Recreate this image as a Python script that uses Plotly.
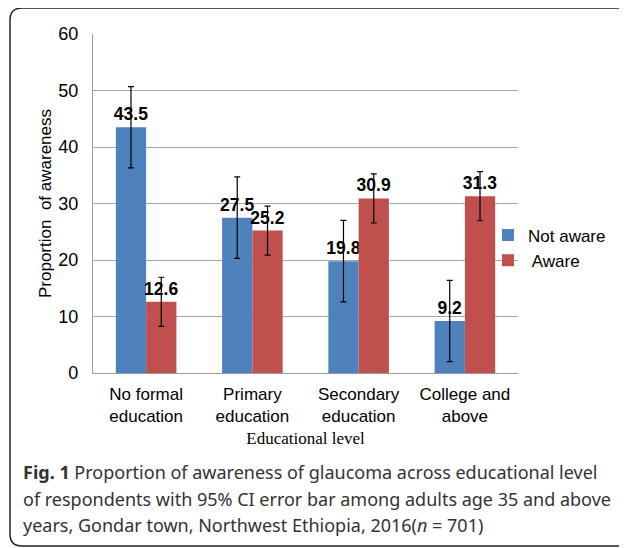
import plotly.graph_objects as go

categories = ["No formal<br>education", "Primary<br>education", "Secondary<br>education", "College and<br>above"]
not_aware = [43.5, 27.5, 19.8, 9.2]
aware = [12.6, 25.2, 30.9, 31.3]
not_aware_ci = [7.2, 7.2, 7.2, 7.2]
aware_ci = [4.35, 4.35, 4.35, 4.35]
y_ticks = [0, 10, 20, 30, 40, 50, 60]

# the page body has an 8px default margin; work in window pixels and shift
OFF = 8
W, H = 627 - OFF, 548 - OFF
L, R, T, B = 93 - OFF, 518 - OFF, 34 - OFF, 373 - OFF


def px(x):
    return (x - OFF - L) / (R - L)


def py(y):
    return (B - (y - OFF)) / (B - T)


BLUE = "#4F81BD"
RED = "#C0504D"
SANS = "Liberation Sans, Arial, sans-serif"

fig = go.Figure()
fig.add_trace(go.Bar(
    name="Not aware", x=categories, y=not_aware,
    marker=dict(color=BLUE, line=dict(width=0)),
    error_y=dict(type="data", array=not_aware_ci, color="black", thickness=1.2, width=3),
    text=[f"{v:.1f}" for v in not_aware], textposition="outside",
    constraintext="none", cliponaxis=False,
    textfont=dict(family=SANS, size=17.5, color="black", weight="bold"),
))
fig.add_trace(go.Bar(
    name=" Aware", x=categories, y=aware,
    marker=dict(color=RED, line=dict(width=0)),
    error_y=dict(type="data", array=aware_ci, color="black", thickness=1.2, width=3),
    text=[f"{v:.1f}" for v in aware], textposition="outside",
    constraintext="none", cliponaxis=False,
    textfont=dict(family=SANS, size=17.5, color="black", weight="bold"),
))

fig.update_layout(
    width=W, height=H,
    margin=dict(l=L, r=W - R, t=T, b=H - B),
    paper_bgcolor="white", plot_bgcolor="white",
    barmode="group", bargap=0.43, bargroupgap=0,
    font=dict(family=SANS, size=17, color="black"),
    showlegend=True,
    legend=dict(x=px(488), y=py(248), xanchor="left", yanchor="middle",
                font=dict(family=SANS, size=17, color="black"),
                itemwidth=30, tracegroupgap=0, bgcolor="rgba(0,0,0,0)"),
    xaxis=dict(
        showline=True, linecolor="#9a9a9a", linewidth=1.2,
        showgrid=False, ticks="", ticklabelstandoff=5, tickfont=dict(family=SANS, size=17),
        title=dict(text="Educational level", font=dict(family="Liberation Serif, Times New Roman, serif", size=17), standoff=7),
    ),
    yaxis=dict(
        range=[0, 60], tickvals=y_ticks, showline=True, linecolor="#9a9a9a", linewidth=1.2,
        showgrid=True, gridcolor="#a6a6a6", gridwidth=1.2, zeroline=False,
        ticks="", ticklabelstandoff=10, tickfont=dict(family=SANS, size=18),
        title=dict(text="Proportion  of awareness", font=dict(family=SANS, size=17), standoff=2),
    ),
)

cap_font = dict(family="Noto Sans, Open Sans, sans-serif", size=18, color="#333333")
caption_lines = [
    "<b>Fig. 1</b> Proportion of awareness of glaucoma across educational level",
    "of respondents with 95% CI error bar among adults age 35 and above",
    "years, Gondar town, Northwest Ethiopia, 2016(<i>n</i> = 701)",
]
for i, line in enumerate(caption_lines):
    fig.add_annotation(text=line, xref="paper", yref="paper",
                       x=px(21), y=py(472 + i * 26.5), xanchor="left", yanchor="middle",
                       showarrow=False, font=cap_font)

# outer rounded frame
x0, x1, y0, y1, r = px(10), px(626), py(8), py(546), 12
rx = r / (R - L)
ry = r / (B - T)
path = (f"M {x0 + rx},{y0} L {x1},{y0} L {x1},{y1} L {x0 + rx},{y1} "
        f"Q {x0},{y1} {x0},{y1 + ry} L {x0},{y0 - ry} Q {x0},{y0} {x0 + rx},{y0} Z")
fig.add_shape(type="path", path=path, xref="paper", yref="paper",
              line=dict(color="#222222", width=1.5), layer="above")

fig.write_html("out.html")
